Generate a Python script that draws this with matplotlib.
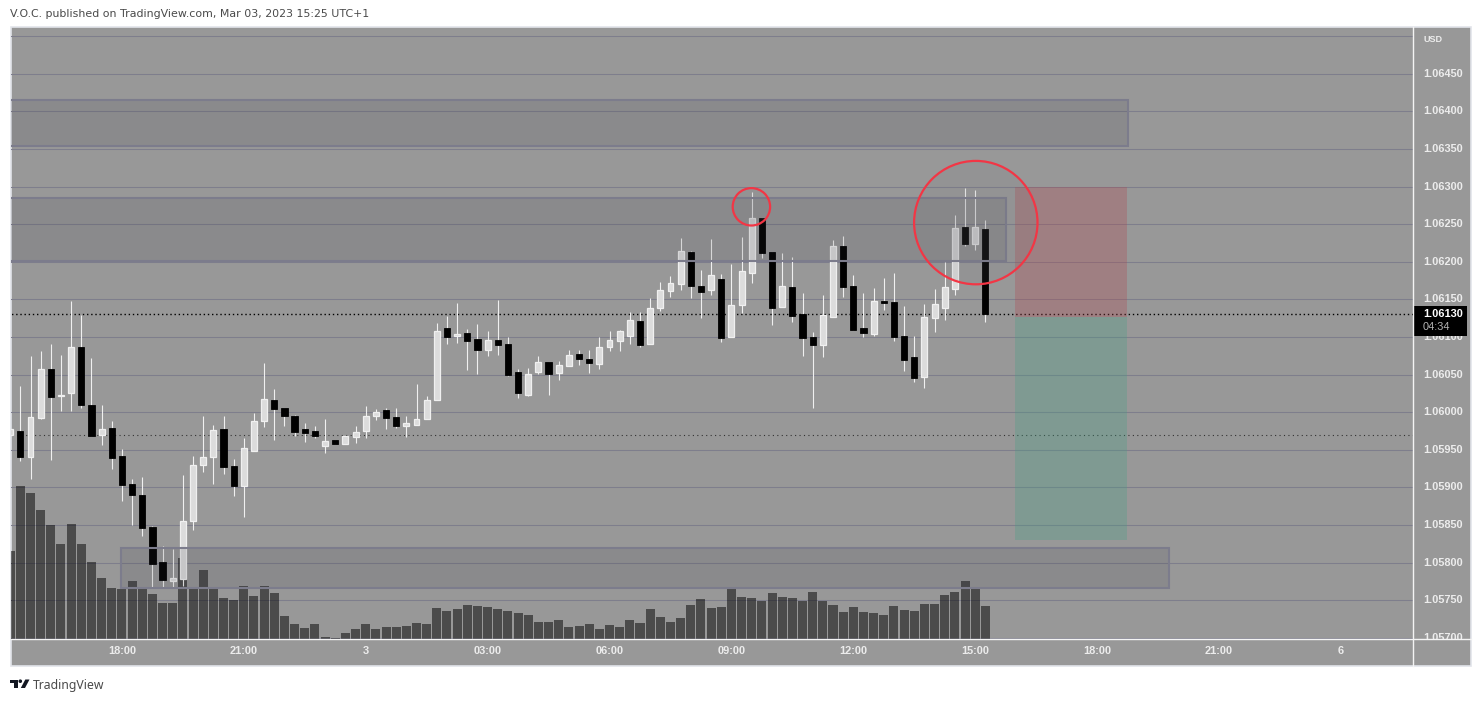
import numpy as np
import matplotlib
matplotlib.use("Agg")
import matplotlib.pyplot as plt
from matplotlib.patches import Rectangle, Ellipse, Polygon, Circle

# prices in 1e-5 USD, 15 min candles
opens = [105969,105975,105940,105992,106057,106021,106025,106086,106009,105969,
         105979,105942,105904,105890,105847,105801,105775,105778,105855,105930,
         105940,105977,105928,105902,105948,105988,106016,106005,105995,105977,
         105975,105955,105963,105957,105967,105975,105995,106003,105993,105981,
         105983,105991,106016,106112,106101,106105,106097,106083,106096,106090,
         106053,106023,106053,106067,106052,106061,106077,106071,106064,106086,
         106094,106101,106121,106090,106138,106161,106170,106213,106168,106162,
         106177,106100,106142,106185,106258,106213,106140,106166,106130,106100,
         106089,106126,106221,106168,106112,106104,106148,106146,106101,106073,
         106047,106125,106138,106164,106246,106223,106243]
highs = [105977,106035,106075,106081,106090,106076,106148,106129,106072,106009,
         105988,105951,105911,105914,105848,105822,105818,105916,105942,105995,
         105983,105995,105938,105965,105999,106065,106031,106005,105996,105985,
         105981,105991,105963,105968,105981,106008,106004,106005,106005,105995,
         106037,106021,106118,106128,106145,106110,106117,106108,106149,106100,
         106057,106059,106075,106067,106068,106083,106083,106083,106100,106108,
         106109,106133,106133,106152,106173,106181,106231,106214,106189,106230,
         106184,106197,106233,106293,106258,106213,106212,106206,106158,106106,
         106156,106229,106234,106182,106158,106165,106178,106185,106141,106101,
         106144,106164,106200,106262,106298,106295,106255]
lows = [105969,105935,105911,105991,105936,106001,106001,106005,105968,105956,
        105924,105882,105850,105835,105767,105767,105767,105769,105843,105920,
        105904,105918,105888,105860,105948,105980,105963,105981,105968,105960,
        105965,105945,105957,105957,105959,105965,105989,105977,105979,105967,
        105983,105991,106016,106090,106092,106056,106051,106075,106076,106048,
        106019,106021,106051,106023,106043,106061,106063,106052,106057,106081,
        106081,106090,106086,106090,106134,106153,106162,106152,106125,106156,
        106093,106100,106132,106172,106205,106116,106140,106120,106075,106005,
        106073,106126,106153,106109,106100,106101,106136,106094,106055,106040,
        106032,106106,106122,106156,106221,106216,106120]
closes = [105977,105940,105993,106057,106020,106023,106086,106009,105968,105977,
          105939,105903,105890,105846,105798,105777,105779,105855,105930,105940,
          105976,105927,105902,105952,105988,106017,106004,105995,105973,105972,
          105968,105961,105957,105968,105973,105995,106000,105992,105981,105985,
          105991,106016,106108,106100,106104,106094,106083,106096,106089,106049,
          106025,106051,106067,106051,106063,106076,106071,106065,106086,106096,
          106108,106122,106089,106138,106162,106172,106214,106168,106160,106182,
          106098,106142,106188,106258,106212,106138,106168,106128,106098,106089,
          106129,106221,106166,106109,106105,106148,106145,106100,106069,106045,
          106126,106144,106166,106245,106223,106246,106130]
volumes = [88,153,146,129,114,95,115,95,77,61,51,50,58,50,45,36,36,81,51,69,
           50,41,39,53,43,53,46,23,15,11,15,2,1,6,10,15,10,12,12,13,
           16,15,31,28,30,34,33,32,30,28,26,24,17,17,19,12,13,15,10,14,
           12,19,16,30,22,17,21,34,40,31,32,50,42,41,38,46,42,41,38,47,
           38,34,27,32,27,26,24,33,29,28,35,35,44,47,58,50,33]

time_ticks = [11, 23, 35, 47, 59, 71, 83, 95, 107, 119, 131]
time_labels = ["18:00", "21:00", "3", "03:00", "06:00", "09:00", "12:00", "15:00", "18:00", "21:00", "6"]
price_labels = [1.0645, 1.0640, 1.0635, 1.0630, 1.0625, 1.0620, 1.0615, 1.0610,
                1.0605, 1.0600, 1.0595, 1.0590, 1.0585, 1.0580, 1.0575, 1.0570]
grid_prices = [1.0650] + price_labels

# zones: left idx, right idx, top, bottom
zones = [(-2, 110.05, 1.06415, 1.06354),
         (-2, 98.04, 1.06285, 1.06201),
         (10.9, 114.1, 1.05819, 1.05766)]
# short position tool
pos_left, pos_right = 98.93, 109.96
pos_stop, pos_entry, pos_target = 1.06299, 1.06127, 1.05830
# circles: centre idx, centre price, radius in px
circles = [(72.97, 1.06273, 18.7), (95.06, 1.06252, 61.7)]
last_price = 1.0613
old_price = 1.05969

BG = "#989898"
GRID = "#7e7e8c"
LIGHT = "#f0f0f0"
FONT = "Liberation Sans"
W, H = 1481, 702
PX_X = 10.157       # px per candle
PX_Y = 75200.0      # px per 1.0 price

fig = plt.figure(figsize=(W / 100, H / 100), dpi=100, facecolor="white")

# page layer in pixel coords: frame, axis labels, logo
page = fig.add_axes([0, 0, 1, 1], zorder=0)
page.set_xlim(0, W)
page.set_ylim(H, 0)
page.axis("off")
page.add_patch(Rectangle((10.5, 27), 1460.5, 639, fc=BG, ec="#e2e4ea", lw=1.2))

# main pane
ax = fig.add_axes([11 / W, 1 - 639 / H, 1402 / W, 612 / H], zorder=1)
ax.patch.set_alpha(0)
x = np.arange(len(opens))
o = np.array(opens) / 1e5
h = np.array(highs) / 1e5
l = np.array(lows) / 1e5
c = np.array(closes) / 1e5
up = c >= o

ax.hlines(grid_prices, -5, 150, color=GRID, lw=0.75, zorder=1)

# volume sits in the bottom quarter of the pane
ax.bar(x, np.array(volumes) / 153 * 0.25, width=0.89, color="black", alpha=0.5,
       lw=0, zorder=2, transform=ax.get_xaxis_transform())

ax.hlines(old_price, -5, 150, color="#333333", lw=0.8, ls=(0, (1, 3)), zorder=2.5)
ax.hlines(last_price, -5, 150, color="black", lw=1.0, ls=(0, (1, 2)), zorder=2.5)

# candles
ax.vlines(x, l, h, color=LIGHT, lw=0.8, zorder=3)
ax.bar(x[up], (c - o)[up], bottom=o[up], width=0.58, color="#dcdcdc", edgecolor=LIGHT, lw=0.9, zorder=3.2)
ax.bar(x[~up], (c - o)[~up], bottom=o[~up], width=0.62, color="black", edgecolor="black", lw=0.6, zorder=3.2)

# long/short tool
ax.add_patch(Rectangle((pos_left, pos_entry), pos_right - pos_left, pos_stop - pos_entry,
                       fc=(178 / 255, 72 / 255, 80 / 255, 0.3), lw=0, zorder=4))
ax.add_patch(Rectangle((pos_left, pos_target), pos_right - pos_left, pos_entry - pos_target,
                       fc=(70 / 255, 160 / 255, 133 / 255, 0.3), lw=0, zorder=4))

for left, right, top, bottom in zones:
    ax.add_patch(Rectangle((left, bottom), right - left, top - bottom, fc=(50 / 255, 50 / 255, 60 / 255, 0.13),
                           ec="#7c7c8c", lw=1.5, zorder=5))

for cx, cy, r in circles:
    ax.add_patch(Ellipse((cx, cy), 2 * r / PX_X, 2 * r / PX_Y, fc=(0.45, 0.45, 0.47, 0.12),
                         ec="#f23645", lw=1.6, zorder=6))

ax.set_xlim(0.08, 138.1)
ax.set_ylim(1.056983, 1.065121)
ax.axis("off")

# price axis labels, clipped at the time axis
pax = fig.add_axes([1413 / W, 1 - 639 / H, 58 / W, 612 / H], zorder=2, sharey=ax)
pax.patch.set_alpha(0)
pax.set_xlim(1413, 1471)
pax.axis("off")
for p in price_labels:
    pax.text(1423, p, "%.5f" % p, color="#ececec", fontsize=7.9, family=FONT, va="center", ha="left",
             clip_on=True, fontweight="bold")
pax.add_patch(Rectangle((1413, 1.0615 - (335.7 - 299.3) / PX_Y), 54, 29.7 / PX_Y, fc="black", lw=0, zorder=5))
pax.text(1423, last_price + 0.5 / PX_Y, "1.06130", color="white", fontsize=7.9, family=FONT, va="center",
         fontweight="bold", zorder=6)
pax.text(1423, last_price - 13 / PX_Y, "04:34", color="#b4b4b4", fontsize=7.9, family=FONT, va="center", zorder=6)

page.text(1423, 40, "USD", color="#ececec", fontsize=6.6, family=FONT, va="center", fontweight="bold")
for t, lab in zip(time_ticks, time_labels):
    px = 10.2 + t * PX_X
    page.text(px, 651.5, lab, color="#ececec", fontsize=7.9, family=FONT, ha="center", va="center", fontweight="bold")

# axis separators, drawn above the panes
top = fig.add_axes([0, 0, 1, 1], zorder=3)
top.set_xlim(0, W)
top.set_ylim(H, 0)
top.axis("off")
top.plot([1413.3, 1413.3], [27, 666], color="#f4f4f4", lw=1.0)
top.plot([10.5, 1471], [639.4, 639.4], color="#f4f4f4", lw=1.0)

# header and footer
page.text(10, 14, "V.O.C. published on TradingView.com, Mar 03, 2023 15:25 UTC+1", color="#4a4a4a",
          fontsize=7.9, family="DejaVu Sans", va="center")
page.text(33, 685, "TradingView", color="#4a4a4a", fontsize=8.8, family="Noto Sans", va="center")

# logo
page.add_patch(Polygon([(10, 679.5), (17.5, 679.5), (17.5, 688), (14, 688), (14, 683), (10, 683)], fc="#131722", lw=0))
page.add_patch(Circle((20.3, 681.2), 1.8, fc="#131722", lw=0))
page.add_patch(Polygon([(25.3, 679.5), (29.5, 679.5), (25, 688), (20.8, 688)], fc="#131722", lw=0))

fig.savefig("out.png", dpi=100, facecolor="white")
